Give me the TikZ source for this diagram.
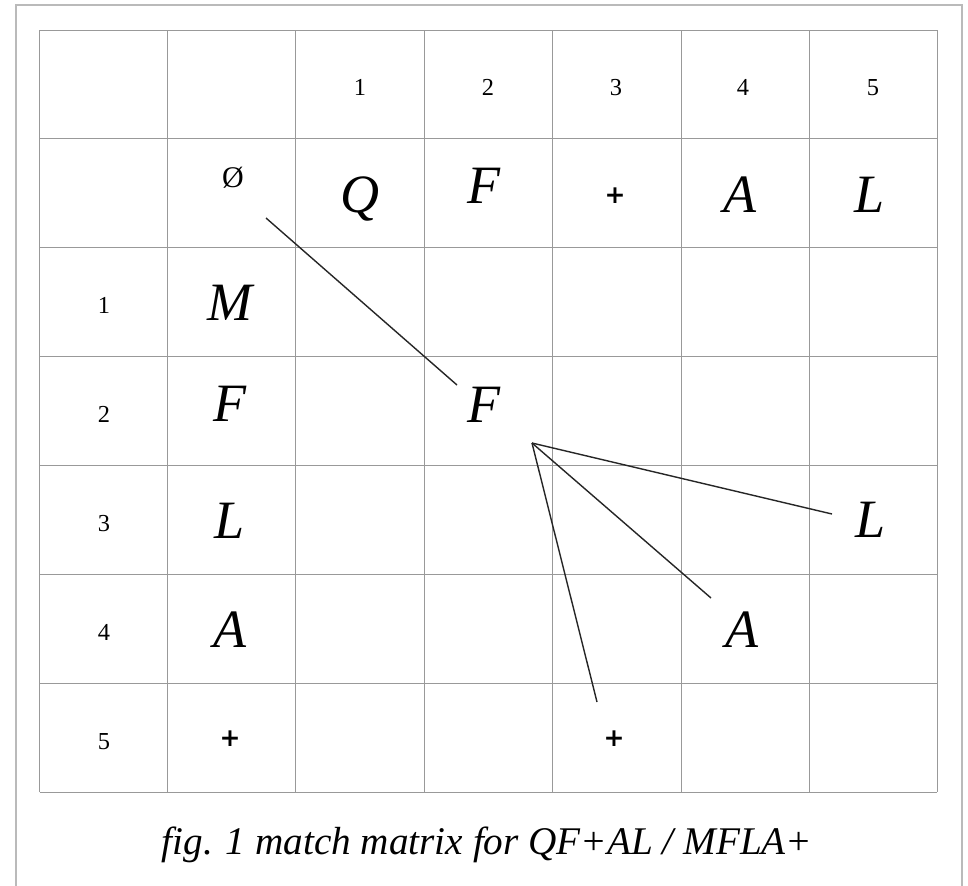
\documentclass[tikz,border=0pt]{standalone}
\usepackage{fontspec}
\newfontfamily\digitfont{Liberation Serif}
\newfontfamily\capfont{Liberation Serif}
\newfontfamily\plusfont{DejaVu Sans}
\begin{document}
\begin{tikzpicture}[x=0.5pt,y=-0.5pt,
  gridline/.style={draw=black!40, line width=0.5pt},
  frameline/.style={draw=black!27, line width=0.8pt},
  link/.style={draw=black!85, line width=0.7pt},
  num/.style={font=\digitfont\fontsize{12.2}{14}\selectfont, inner sep=0pt, anchor=base},
  sym/.style={font=\capfont\itshape\fontsize{27}{30}\selectfont, inner sep=0pt, anchor=base},
  plus/.style={font=\plusfont\bfseries\fontsize{12.5}{14}\selectfont, inner sep=0pt, anchor=center},
  caption/.style={font=\capfont\itshape\fontsize{19.6}{24}\selectfont, inner sep=0pt, anchor=base},
]
\useasboundingbox (0,0) rectangle (968,885);
\fill[white] (0,0) rectangle (968,885);
% page frame, open at the bottom
\draw[frameline] (16,890) -- (16,5) -- (962,5) -- (962,890);
% 7 x 7 grid
\foreach \gx in {39.5,167.5,295.5,424,552,681,809,937}
  \draw[gridline] (\gx,30) -- (\gx,792);
\foreach \gy in {30,138,247,356,465,574,683,792}
  \draw[gridline] (39.5,\gy) -- (937,\gy);

% column indices
\node[num] (c1) at (360,95) {1};
\node[num] (c2) at (488,95) {2};
\node[num] (c3) at (616,95) {3};
\node[num] (c4) at (743,95) {4};
\node[num] (c5) at (873,95) {5};
% row indices
\node[num] (r1) at (104,313) {1};
\node[num] (r2) at (104,422) {2};
\node[num] (r3) at (104,531) {3};
\node[num] (r4) at (104,640) {4};
\node[num] (r5) at (104,749) {5};

% first string: QF+AL
\node[inner sep=0pt, font=\digitfont\fontsize{15}{18}\selectfont] (empty) at (233,178) {Ø};
\node[sym] (tq) at (360,212) {Q};
\node[sym] (tf) at (484,203) {F};
\node[plus] (tp) at (615,196) {+};
\node[sym] (ta) at (740,212) {A};
\node[sym] (tl) at (870,212) {L};

% second string: MFLA+
\node[sym] (lm) at (230,320) {M};
\node[sym] (lf) at (230,421) {F};
\node[sym] (ll) at (230,538) {L};
\node[sym] (la) at (230,647) {A};
\node[plus] (lp) at (230,739) {+};

% matches
\node[sym] (mf) at (484,422) {F};
\node[sym] (ml) at (871,537) {L};
\node[sym] (ma) at (742,647) {A};
\node[plus] (mp) at (614,739) {+};

% connector ends
\coordinate (s0) at (266,218);
\coordinate (e0) at (457,385);
\coordinate (hub) at (532,443);
\coordinate (eL) at (832,514);
\coordinate (eA) at (711,598);
\coordinate (eP) at (597,702);
\draw[link] (s0) -- (e0);
\draw[link] (hub) -- (eL);
\draw[link] (hub) -- (eA);
\draw[link] (hub) -- (eP);

% caption
\node[caption] (cap) at (487,854) {fig. 1 match matrix for QF+AL / MFLA+};
\end{tikzpicture}
\end{document}
